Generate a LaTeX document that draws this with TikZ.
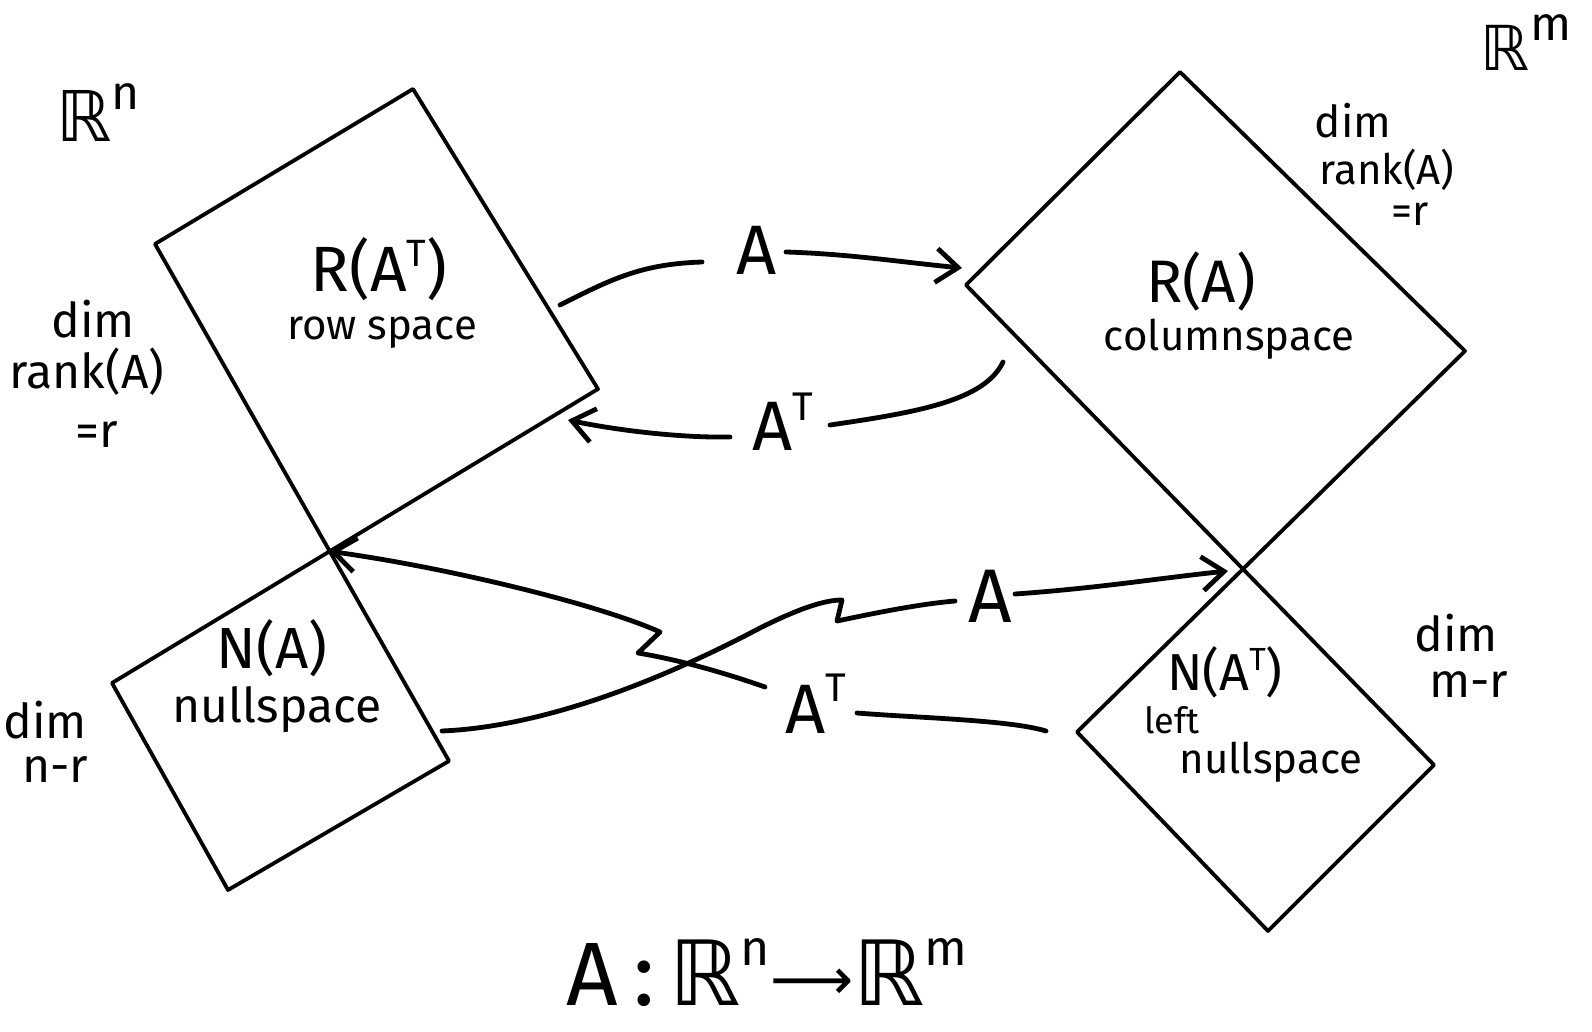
\documentclass[tikz,border=0pt]{standalone}
\usepackage{fontspec}
\setmainfont{Fira Sans}
\newfontfamily\symfont{DejaVu Sans}
\usetikzlibrary{arrows.meta}
\newcommand{\fs}[1]{\fontsize{#1}{#1}\selectfont}
\newcommand{\bbR}{{\symfont ℝ}}
\newcommand{\hsup}[3]{\raisebox{#1}{\fs{#2}#3}}
\begin{document}
\begin{tikzpicture}[x=1pt,y=-1pt,
  box/.style={line width=3.8pt,line cap=round,line join=round},
  arr/.style={line width=4.8pt,line cap=round,line join=round},
  tip/.style={-{Straight Barb[length=22pt,width=34pt]}},
  txt/.style={inner sep=0pt,anchor=base},
]
\fill[white] (0,0) rectangle (1592,1032);
\useasboundingbox (0,0) rectangle (1592,1032);

% ---- corners of the four subspaces
\coordinate (rTL) at (155,244);
\coordinate (rTR) at (413,89);
\coordinate (rBR) at (598,389);
\coordinate (nL) at (112,683);
\coordinate (nB) at (228,890);
\coordinate (nR) at (449,761);
\coordinate (X) at (intersection of rBR--nL and rTL--nR);
\coordinate (cL) at (966,285);
\coordinate (cT) at (1180,72);
\coordinate (cR) at (1465,351);
\coordinate (lL) at (1077,732);
\coordinate (lB) at (1268,931);
\coordinate (lR) at (1434,765);
\coordinate (Y) at (intersection of cR--lL and cL--lR);

\draw[box] (nL) -- (rBR) -- (rTR) -- (rTL) -- (nR) -- (nB) -- (nL);
\draw[box] (lL) -- (cR) -- (cT) -- (cL) -- (lR) -- (lB) -- (lL);

% ---- space labels
\node[txt] (Rn) at (98,142) {\fs{70}\bbR\hsup{32pt}{48}{n}};
\node[txt] (Rm) at (1526,71) {\fs{62}\bbR\hsup{30pt}{48}{m}};

\node[txt] (dimL1) at (93,337) {\fs{48}dim};
\node[txt] (dimL2) at (87,388) {\fs{48}rank(A)};
\node[txt] (dimL3) at (97,447) {\fs{48}=r};

\node[txt] (dimR1) at (1353,138) {\fs{44}dim};
\node[txt] (dimR2) at (1387,185) {\fs{42}rank(A)};
\node[txt] (dimR3) at (1410,226) {\fs{42}=r};

\node[txt] (dimN1) at (45,738) {\fs{48}dim};
\node[txt] (dimN2) at (55,782) {\fs{48}n-r};

\node[txt] (dimM1) at (1456,651) {\fs{48}dim};
\node[txt] (dimM2) at (1469,697) {\fs{48}m-r};

% ---- subspace names
\node[txt] (RAT) at (379,291) {\fs{64}R(A\hsup{25pt}{38}{T})};
\node[txt] (RATn) at (382,339) {\fs{42}row space};
\node[txt] (RA) at (1201,302) {\fs{60}R(A)};
\node[txt] (RAn) at (1229,350) {\fs{42}columnspace};
\node[txt] (NA) at (272,668) {\fs{58}N(A)};
\node[txt] (NAn) at (277,722) {\fs{48}nullspace};
\node[txt] (NAT) at (1225,690) {\fs{52}N(A\hsup{20pt}{32}{T})};
\node[txt] (NATl) at (1172,733) {\fs{36}left};
\node[txt] (NATn) at (1271,773) {\fs{42}nullspace};

% ---- arrow labels
\node[txt] (A1) at (757,275) {\fs{70}A};
\node[txt] (AT1) at (783,450) {\fs{70}A\hsup{30pt}{40}{T}};
\node[txt] (A2) at (990,622) {\fs{76}A};
\node[txt] (AT2) at (816,733) {\fs{70}A\hsup{32pt}{40}{T}};

% ---- connector ends
\coordinate (rsOut) at (560,305);
\coordinate (A1l) at (702,262);
\coordinate (A1r) at (786,252);
\coordinate (csIn) at (962,268);
\coordinate (csOut) at (1003,362);
\coordinate (AT1r) at (830,425);
\coordinate (AT1l) at (730,437);
\coordinate (rsIn) at (568,420);
\coordinate (nsOut) at (442,731);
\coordinate (A2l) at (955,601);
\coordinate (A2r) at (1015,594);
\coordinate (lnIn) at (1228,571);
\coordinate (lnOut) at (1046,731);
\coordinate (AT2r) at (857,713);
\coordinate (AT2l) at (765,687);

% ---- arrows
\draw[arr] (rsOut) .. controls (610,280) and (640,264) .. (A1l);
\draw[arr,tip] (A1r) .. controls (850,254) and (900,262) .. (csIn);

\draw[arr] (csOut) .. controls (985,400) and (920,412) .. (AT1r);
\draw[arr,tip] (AT1l) .. controls (680,438) and (615,430) .. (rsIn);

\draw[arr] (nsOut) .. controls (560,726) and (690,665) .. (760,628)
  .. controls (800,608) and (825,600) .. (842,600) -- (837,621)
  .. controls (880,612) and (920,604) .. (A2l);
\draw[arr,tip] (A2r) .. controls (1100,588) and (1160,578) .. (lnIn);

\draw[arr] (AT2r) .. controls (920,718) and (1010,720) .. (lnOut);
\draw[arr,tip] (AT2l) .. controls (725,673) and (680,660) .. (638,653) -- (660,632)
  .. controls (600,605) and (450,568) .. (X);

% ---- map
\node[txt] (map) at (767,1005) {\fs{90}A\,:\,\bbR\hsup{40pt}{50}{n}\raisebox{6pt}{\symfont\fs{58}⟶}\bbR\hsup{40pt}{50}{m}};
\end{tikzpicture}
\end{document}
